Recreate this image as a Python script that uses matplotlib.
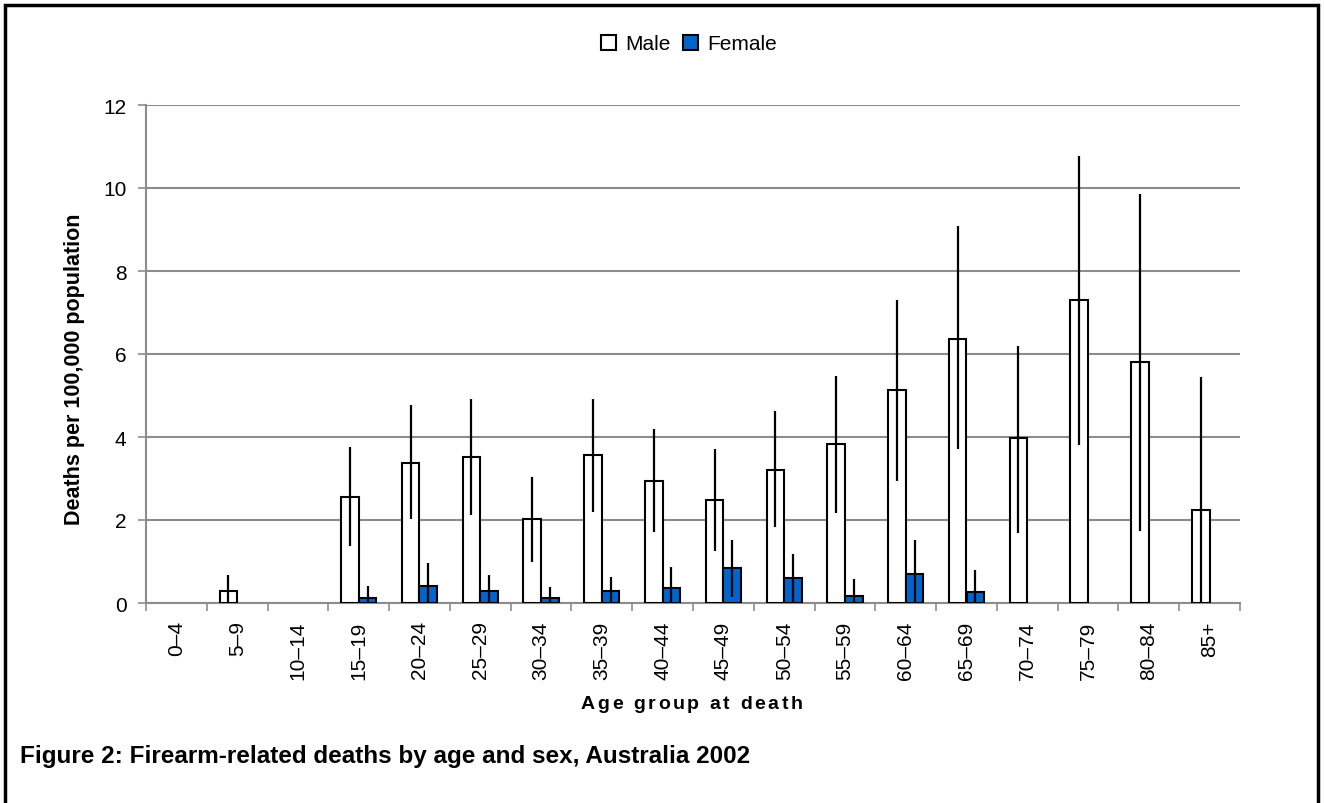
import numpy as np
import matplotlib.pyplot as plt
from matplotlib.patches import Rectangle, Patch

plt.rcParams['font.family'] = ['Liberation Sans', 'DejaVu Sans']

# data
age_groups = ['0\u20134', '5\u20139', '10\u201314', '15\u201319', '20\u201324', '25\u201329',
              '30\u201334', '35\u201339', '40\u201344', '45\u201349', '50\u201354', '55\u201359',
              '60\u201364', '65\u201369', '70\u201374', '75\u201379', '80\u201384', '85+']
male = [0, 0.29, 0, 2.55, 3.37, 3.52, 2.02, 3.57, 2.93, 2.49, 3.21, 3.83,
        5.13, 6.37, 3.97, 7.29, 5.80, 2.24]
male_lo = [0, 0, 0, 1.38, 2.02, 2.12, 0.99, 2.20, 1.71, 1.26, 1.84, 2.16,
           2.94, 3.70, 1.69, 3.81, 1.73, 0]
male_hi = [0, 0.67, 0, 3.76, 4.78, 4.92, 3.04, 4.92, 4.20, 3.70, 4.62, 5.48,
           7.31, 9.09, 6.20, 10.77, 9.86, 5.44]
female = [0, 0, 0, 0.12, 0.42, 0.29, 0.12, 0.29, 0.37, 0.85, 0.60, 0.18,
          0.71, 0.27, 0, 0, 0, 0]
female_lo = [0, 0, 0, 0, 0, 0, 0, 0, 0, 0.15, 0, 0,
             0, 0, 0, 0, 0, 0]
female_hi = [0, 0, 0, 0.42, 0.96, 0.68, 0.38, 0.62, 0.87, 1.52, 1.19, 0.57,
             1.52, 0.80, 0, 0, 0, 0]

BLUE = '#0066CC'
GRID = '#8c8c8c'
FS = 15

fig = plt.figure(figsize=(13.24, 8.04), dpi=100)
W, H = 1324, 804
ax = fig.add_axes([146 / W, 1 - 604 / H, (1240 - 146) / W, (604 - 106) / H])

x = np.arange(len(age_groups))
bw = 0.29
male = np.array(male)
female = np.array(female)
male_lo, male_hi = np.array(male_lo), np.array(male_hi)
female_lo, female_hi = np.array(female_lo), np.array(female_hi)

# skip empty groups so no black line sits on the baseline
mm = male > 0
fm = female > 0
ax.bar((x - bw / 2)[mm], male[mm], bw, color='white', edgecolor='black', linewidth=1.5, zorder=3)
ax.bar((x + bw / 2)[fm], female[fm], bw, color=BLUE, edgecolor='black', linewidth=1.5, zorder=3)
ax.errorbar((x - bw / 2)[mm], male[mm],
            yerr=[(male - male_lo)[mm], (male_hi - male)[mm]],
            fmt='none', ecolor='black', elinewidth=1.6, capsize=0, zorder=4)
ax.errorbar((x + bw / 2)[fm], female[fm],
            yerr=[(female - female_lo)[fm], (female_hi - female)[fm]],
            fmt='none', ecolor='black', elinewidth=1.6, capsize=0, zorder=4)

ax.set_xlim(-0.5, len(age_groups) - 0.5)
ax.set_ylim(0, 12)
ax.set_yticks(range(0, 13, 2))
ax.yaxis.grid(True, color=GRID, linewidth=1.5, zorder=0)
ax.set_axisbelow(True)

ax.set_xticks(np.arange(-0.5, len(age_groups), 1))
ax.set_xticklabels([])
ax.set_xticks(x, minor=True)
ax.set_xticklabels(age_groups, minor=True, rotation=90, fontsize=FS)
ax.tick_params(axis='x', which='minor', length=0, pad=12.5)
ax.tick_params(axis='x', which='major', length=6, color=GRID, width=1.2)
ax.tick_params(axis='y', length=6, color=GRID, width=1.2, labelsize=FS, pad=8)

for s in ['top', 'right']:
    ax.spines[s].set_visible(False)
for s in ['left', 'bottom']:
    ax.spines[s].set_color(GRID)
    ax.spines[s].set_linewidth(1.5)

fig.text(75 / W, 1 - 369 / H, 'Deaths per 100,000 population', rotation=90,
         ha='center', va='center', fontsize=15.5, fontweight='bold')

# x axis title is letter-spaced in the original: place char by char
xlabel = 'Age group at death'
renderer = fig.canvas.get_renderer()
widths = []
for ch in xlabel:
    t = fig.text(0, 0, ch if ch != ' ' else 'a', fontsize=14, fontweight='bold')
    w = t.get_window_extent(renderer).width
    t.remove()
    widths.append(w * (0.5 if ch == ' ' else 1.0))
gap = 2.6
total = sum(widths) + gap * (len(xlabel) - 1)
cx = 580 + 223 / 2
pos = cx - total / 2
for ch, w in zip(xlabel, widths):
    if ch != ' ':
        fig.text(pos / W, 1 - 705 / H, ch, ha='left', va='center',
                 fontsize=14, fontweight='bold')
    pos += w + gap

handles = [Patch(facecolor='white', edgecolor='black', linewidth=1.5, label='Male'),
           Patch(facecolor=BLUE, edgecolor='black', linewidth=1.5, label='Female')]
fig.legend(handles=handles, loc='center', bbox_to_anchor=(689 / W, 1 - 45 / H), ncol=2,
           frameon=False, fontsize=FS, handlelength=0.7, handleheight=0.7,
           handletextpad=0.45, columnspacing=0.6, borderpad=0)

fig.text(20 / W, 1 - 757 / H, 'Figure 2: Firearm-related deaths by age and sex, Australia 2002',
         ha='left', va='center', fontsize=17.5, fontweight='bold')

fig.patches.append(Rectangle((5 / W, -0.05), (1318 - 5) / W, 1.05 - 6 / H,
                             transform=fig.transFigure, fill=False,
                             edgecolor='black', linewidth=2.5))

fig.savefig('out.png', dpi=100)
